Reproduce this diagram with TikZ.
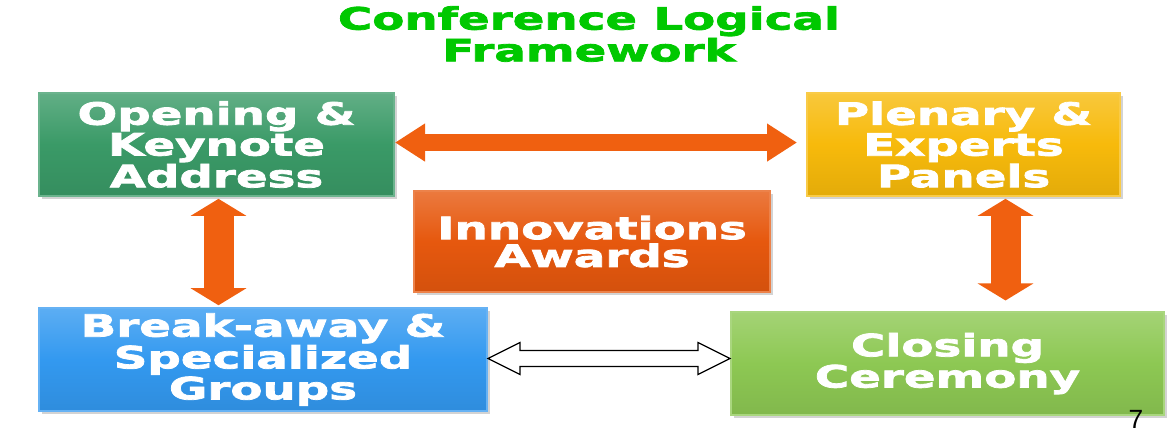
\documentclass[tikz,border=0pt]{standalone}
\usepackage{fontspec}
\setmainfont{Liberation Sans}
\newfontfamily\heavyfont[UprightFont=* Bold, FakeStretch=1.52, FakeBold=2.5]{DejaVu Sans}
\usepackage{tikz}
\usetikzlibrary{arrows.meta, positioning, calc, shadows}

\definecolor{keygreen}{RGB}{58,154,103}
\definecolor{panelgold}{RGB}{247,186,11}
\definecolor{awardorange}{RGB}{230,88,14}
\definecolor{groupblue}{RGB}{51,153,240}
\definecolor{closegreen}{RGB}{141,200,83}
\definecolor{arroworange}{RGB}{240,96,16}
\definecolor{titlegreen}{RGB}{0,200,0}

\tikzset{
  stage/.style={anchor=north west, align=center, text=white,
    font=\heavyfont\fontsize{17.5}{15.8}\selectfont,
    minimum height=2.06cm, inner sep=0pt,
    top color=#1!80!white, bottom color=#1!92!black, middle color=#1,
    draw=#1!75!white, line width=1.2pt,
    drop shadow={opacity=0.35, shadow xshift=1.5pt, shadow yshift=-1.5pt}},
  fatarrow/.style={arroworange, line width=#1},
  whitearrow/.style={draw=black, fill=white, line width=0.7pt, line join=miter}
}

\begin{document}
\begin{tikzpicture}[x=0.02cm, y=-0.02cm]
  \useasboundingbox (0,0) rectangle (1176,432);

  % title
  \node[text=titlegreen, align=center, font=\heavyfont\fontsize{17.5}{15.8}\selectfont] (title) at (589,34) {Conference Logical\\Framework};

  % the five stages
  \node[stage=keygreen, minimum width=7.1cm] (open) at (38,92) {Opening \&\\Keynote\\Address};
  \node[stage=panelgold, minimum width=6.26cm] (plen) at (806,92) {Plenary \&\\Experts\\Panels};
  \node[stage=awardorange, minimum width=7.12cm, minimum height=2.02cm] (innov) at (413,190) {Innovations\\Awards};
  \node[stage=groupblue, minimum width=8.96cm] (brk) at (38,307) {Break-away \&\\Specialized\\Groups};
  \node[stage=closegreen, minimum width=8.66cm] (cls) at (730,311) {Closing\\Ceremony};

  % orange links
  \draw[fatarrow=0.34cm, {Triangle[length=0.6cm 0 0, width=0.72cm 0 0]}-{Triangle[length=0.6cm 0 0, width=0.72cm 0 0]}, shorten >=0.18cm]
    ($(open.east)+(0,-2)$) -- ($(plen.west)+(0,-2)$);
  \coordinate (od) at ($(open.south)+(2,0)$);
  \draw[fatarrow=0.6cm, {Triangle[length=0.34cm 0 0, width=1.1cm 0 0]}-{Triangle[length=0.34cm 0 0, width=1.1cm 0 0]}, shorten <=1pt, shorten >=1pt]
    (od) -- (od |- brk.north);
  \coordinate (pd) at ($(plen.south)+(42,0)$);
  \draw[fatarrow=0.6cm, {Triangle[length=0.34cm 0 0, width=1.1cm 0 0]}-{Triangle[length=0.34cm 0 0, width=1.1cm 0 0]}, shorten <=1pt, shorten >=6pt]
    (pd) -- (pd |- cls.north);

  % outlined link between the lower stages
  \coordinate (la) at ($(brk.east)+(0,-1)$);
  \coordinate (lb) at (la -| cls.west);
  \draw[whitearrow] (la) -- ++(32,-16) -- ++(0,8) -- ($(lb)+(-32,-8)$) -- ++(0,-8) -- (lb)
    -- ++(-32,16) -- ++(0,-8) -- ($(la)+(32,8)$) -- ++(0,8) -- cycle;

  % page number
  \node[font=\fontsize{15}{15}\selectfont] (page) at (1136,419) {7};
\end{tikzpicture}
\end{document}
